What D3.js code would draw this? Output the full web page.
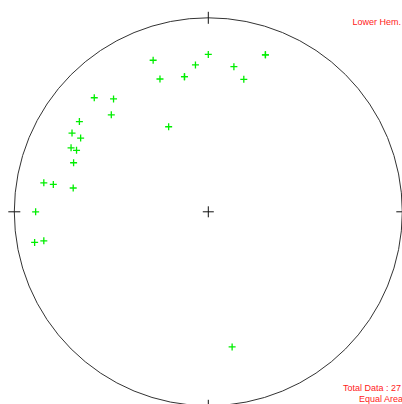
<!DOCTYPE html>
<html>
<head>
<meta charset="utf-8">
<script src="https://cdn.jsdelivr.net/npm/d3@7"></script>
<style>
  html, body { margin: 0; padding: 0; background: #fff; }
  svg { display: block; }
  text { font-family: "Liberation Sans", Arial, sans-serif; }
</style>
</head>
<body>
<svg id="chart" width="402" height="404"></svg>
<script>
// lineations, lower hemisphere (trend / plunge in degrees)
const trends = [340, 0, 20, 355, 10, 340, 350, 350, 15, 315, 320, 315, 305, 300, 300,
  295, 295, 290, 280, 280, 280, 270, 260, 260, 335, 170, 20]
const plunges = [18, 20, 15, 25, 25, 28, 30, 30, 30, 18, 25, 30, 20, 20, 25,
  23, 26, 27, 15, 20, 30, 12, 10, 15, 50, 30, 15]
const headerLabels = ['Lower Hem.']
const footerLabels = ['Total Data : 27', 'Equal Area']

const width = 402
const height = 404
const cx = 208.3
const cy = 211.8
const radius = 194

const svg = d3.select('#chart')
const g = svg.append('g').attr('transform', `translate(${cx},${cy})`)

// equal-area (Schmidt) projection: r = sqrt(2) * sin(colatitude / 2)
const rScale = d3.scaleLinear().domain([0, 1]).range([0, radius])

function project (trend, plunge) {
  const t = trend * Math.PI / 180
  const r = Math.SQRT2 * Math.sin((90 - plunge) * Math.PI / 360)
  return [rScale(r) * Math.sin(t), -rScale(r) * Math.cos(t)]
}

// primitive circle
g.append('circle')
  .attr('r', radius)
  .attr('fill', 'none')
  .attr('stroke', '#333')
  .attr('stroke-width', 1)

// N, E, S, W ticks
const tickLen = 6
g.selectAll('.tick')
  .data([0, 90, 180, 270])
  .join('line')
  .attr('class', 'tick')
  .attr('x1', d => d % 180 === 0 ? 0 : project(d, 0)[0] - tickLen)
  .attr('x2', d => d % 180 === 0 ? 0 : project(d, 0)[0] + tickLen)
  .attr('y1', d => d % 180 === 0 ? project(d, 0)[1] - tickLen : 0)
  .attr('y2', d => d % 180 === 0 ? project(d, 0)[1] + tickLen : 0)
  .attr('stroke', '#111')
  .attr('stroke-width', 1)

// centre cross
g.append('path')
  .attr('d', 'M-5.5,0H5.5M0,-5.5V5.5')
  .attr('stroke', '#111')
  .attr('stroke-width', 1)
  .attr('fill', 'none')

// data points as plus signs
const points = trends.map((t, i) => project(t, plunges[i]))
g.append('g')
  .selectAll('path')
  .data(points)
  .join('path')
  .attr('transform', d => `translate(${d[0]},${d[1]})`)
  .attr('d', 'M-3.5,0H3.5M0,-3.5V3.5')
  .attr('stroke', '#00ee00')
  .attr('stroke-width', 1.3)
  .attr('fill', 'none')

// labels
svg.append('text')
  .attr('x', 401)
  .attr('y', 25)
  .attr('text-anchor', 'end')
  .attr('font-size', 9)
  .attr('fill', '#ff1a1a')
  .text(headerLabels[0])

svg.selectAll('.foot')
  .data(footerLabels)
  .join('text')
  .attr('class', 'foot')
  .attr('x', (d, i) => i === 0 ? 343 : 359)
  .attr('y', (d, i) => 391 + i * 11)
  .attr('font-size', 9)
  .attr('fill', '#ff1a1a')
  .text(d => d)
</script>
</body>
</html>
